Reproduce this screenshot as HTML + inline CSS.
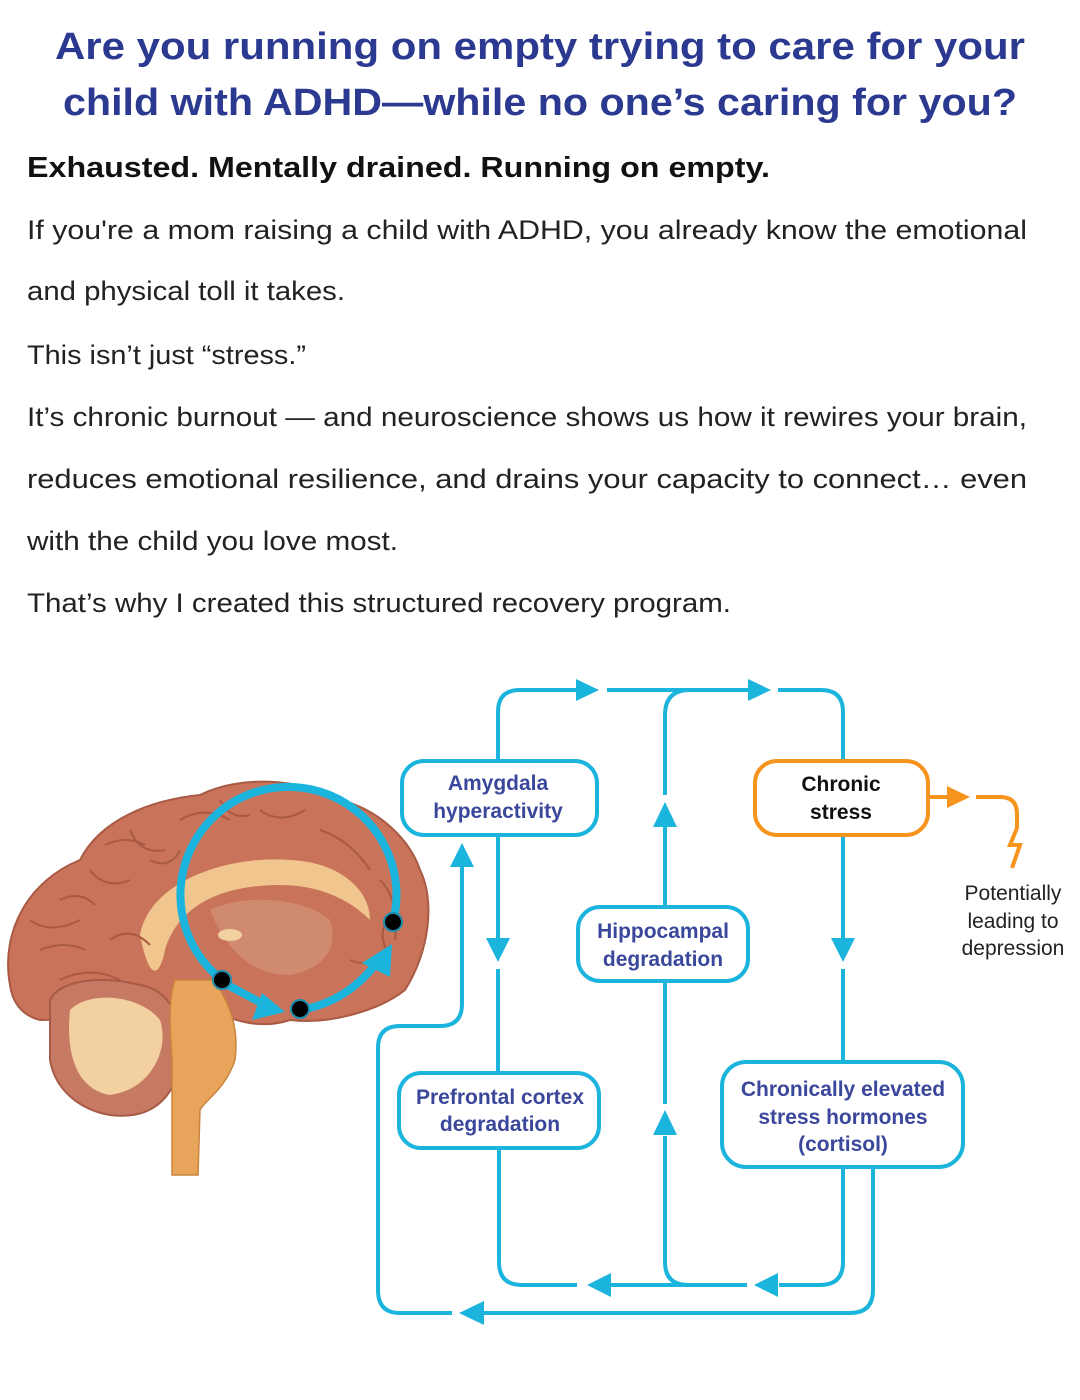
<!DOCTYPE html>
<html><head><meta charset="utf-8"><style>
html,body{margin:0;padding:0;background:#fff;width:1080px;height:1400px;overflow:hidden}
svg{display:block}
.t{font-family:"Liberation Sans",sans-serif;}
</style></head><body>
<svg width="1080" height="1400" viewBox="0 0 1080 1400" xmlns="http://www.w3.org/2000/svg">
<g class="t">
<text x="540" y="59" text-anchor="middle" font-size="38" font-weight="bold" fill="#2b3990" textLength="970" lengthAdjust="spacingAndGlyphs">Are you running on empty trying to care for your</text>
<text x="540" y="115" text-anchor="middle" font-size="38" font-weight="bold" fill="#2b3990" textLength="954" lengthAdjust="spacingAndGlyphs">child with ADHD—while no one’s caring for you?</text>
<text x="27" y="177" font-size="29" font-weight="bold" fill="#111" textLength="743" lengthAdjust="spacingAndGlyphs">Exhausted. Mentally drained. Running on empty.</text>
<text x="27" y="239" font-size="27" fill="#222" textLength="1000" lengthAdjust="spacingAndGlyphs">If you're a mom raising a child with ADHD, you already know the emotional</text>
<text x="27" y="300" font-size="27" fill="#222" textLength="318" lengthAdjust="spacingAndGlyphs">and physical toll it takes.</text>
<text x="27" y="364" font-size="27" fill="#222" textLength="279" lengthAdjust="spacingAndGlyphs">This isn’t just “stress.”</text>
<text x="27" y="426" font-size="27" fill="#222" textLength="1000" lengthAdjust="spacingAndGlyphs">It’s chronic burnout — and neuroscience shows us how it rewires your brain,</text>
<text x="27" y="488" font-size="27" fill="#222" textLength="1000" lengthAdjust="spacingAndGlyphs">reduces emotional resilience, and drains your capacity to connect… even</text>
<text x="27" y="550" font-size="27" fill="#222" textLength="371" lengthAdjust="spacingAndGlyphs">with the child you love most.</text>
<text x="27" y="612" font-size="27" fill="#222" textLength="704" lengthAdjust="spacingAndGlyphs">That’s why I created this structured recovery program.</text>
</g>

<!-- Brain -->
<g>
<path d="M10,985 C0,930 30,880 80,860 C100,820 150,800 200,795 C240,775 300,778 340,800 C380,810 410,840 420,870 C435,900 430,950 405,990 C380,1010 330,1025 290,1020 C260,1030 230,1020 215,1010 L210,1005 C190,1005 170,1010 160,1000 C120,1010 80,1020 40,1020 C20,1015 12,1000 10,985 Z" fill="#c9735a" stroke="#a85a45" stroke-width="2"/>
<path d="M50,1000 C60,980 100,975 140,985 C170,990 185,1020 180,1060 C175,1100 150,1120 110,1115 C80,1110 55,1090 50,1060 Z" fill="#c77a63" stroke="#a85a45" stroke-width="2"/>
<path d="M70,1010 C90,990 140,995 160,1020 C170,1050 150,1090 110,1095 C80,1090 65,1060 70,1010 Z" fill="#f2d0a0"/>
<path d="M175,980 L215,980 C225,1000 240,1020 235,1060 C225,1090 205,1100 200,1110 L198,1175 L172,1175 L172,1060 C170,1030 168,1000 175,980 Z" fill="#e8a45a" stroke="#c9843e" stroke-width="1.5"/>
<path d="M140,935 C150,880 230,855 290,860 C340,862 370,890 370,920 C350,900 320,885 280,885 C230,885 180,900 165,950 C160,975 150,985 140,935 Z" fill="#f0c58e"/>
<path d="M210,910 C240,895 300,895 330,920 C340,950 320,970 290,975 C260,975 230,960 210,910 Z" fill="#d08a70"/>
<ellipse cx="230" cy="935" rx="12" ry="6" fill="#f2d0a0"/>
<path d="M105,845 q20,-10 40,0 M180,820 q25,-15 50,0 M260,810 q20,15 45,0 M60,900 q20,-10 35,5 M320,830 q30,10 50,40 M380,880 q20,20 15,60 M40,950 q25,-10 45,0 M90,870 q15,20 40,10 M130,830 q10,25 35,20 M30,920 q20,15 50,0 M60,980 q30,-15 60,0 M110,940 q20,-15 40,5 M150,860 q20,10 30,-10 M220,800 q10,20 30,15 M350,960 q25,10 40,-10 M390,915 q-15,20 0,40" stroke="#a85a45" stroke-width="2" fill="none"/>
<!-- cyan arc -->
<path d="M222,980 A108,108 0 1 1 393,922" stroke="#1bb4dd" stroke-width="8" fill="none"/>
<path d="M222,982 L265,1005" stroke="#1bb4dd" stroke-width="8" fill="none"/>
<polygon points="285,1012 252,1020 262,993" fill="#1bb4dd"/>
<path d="M300,1010 C330,1005 355,990 375,965" stroke="#1bb4dd" stroke-width="8" fill="none"/>
<polygon points="392,944 390,977 362,963" fill="#1bb4dd"/>
<circle cx="222" cy="980" r="9" fill="#000" stroke="#1a8fb0" stroke-width="2"/>
<circle cx="300" cy="1009" r="9" fill="#000" stroke="#1a8fb0" stroke-width="2"/>
<circle cx="393" cy="922" r="9" fill="#000" stroke="#1a8fb0" stroke-width="2"/>
</g>

<!-- Flow lines -->
<g stroke="#1bb4dd" stroke-width="4" fill="none">
<path d="M498,760 L498,712 Q498,690 520,690 L578,690"/>
<path d="M607,690 L752,690"/>
<path d="M778,690 L821,690 Q843,690 843,712 L843,760"/>
<path d="M665,795 L665,715 Q665,690 690,690"/>
<path d="M665,907 L665,827"/>
<path d="M665,981 L665,1104"/>
<path d="M665,1136 L665,1262 Q665,1285 688,1285 L747,1285"/>
<path d="M498,835 L498,938"/>
<path d="M498,969 L498,1073"/>
<path d="M843,835 L843,938"/>
<path d="M843,969 L843,1062"/>
<path d="M499,1148 L499,1262 Q499,1285 522,1285 L577,1285"/>
<path d="M611,1285 L747,1285"/>
<path d="M779,1285 L820,1285 Q843,1285 843,1262 L843,1167"/>
<path d="M873,1167 L873,1290 Q873,1313 850,1313 L484,1313"/>
<path d="M452,1313 L400,1313 Q378,1313 378,1290 L378,1048 Q378,1026 400,1026 L440,1026 Q462,1026 462,1004 L462,866"/>
</g>
<g fill="#1bb4dd">
<polygon points="599,690 576,679 576,701"/>
<polygon points="771,690 748,679 748,701"/>
<polygon points="665,802 653,827 677,827"/>
<polygon points="665,1110 653,1135 677,1135"/>
<polygon points="498,962 486,938 510,938"/>
<polygon points="843,962 831,938 855,938"/>
<polygon points="587,1285 611,1273 611,1297"/>
<polygon points="754,1285 778,1273 778,1297"/>
<polygon points="459,1313 484,1301 484,1325"/>
<polygon points="462,843 450,867 474,867"/>
</g>
<!-- orange -->
<g stroke="#f7941d" stroke-width="4" fill="none">
<path d="M928,797 L948,797"/>
<path d="M976,797 L1000,797 Q1017,797 1017,814 L1017,828 L1010,845 L1020,845 L1012,868"/>
</g>
<polygon points="970,797 947,786 947,808" fill="#f7941d"/>

<!-- Boxes -->
<g stroke-width="4" fill="#fff">
<rect x="402" y="761" width="195" height="74" rx="22" stroke="#1bb4dd"/>
<rect x="755" y="761" width="173" height="74" rx="22" stroke="#f7941d"/>
<rect x="578" y="907" width="170" height="74" rx="22" stroke="#1bb4dd"/>
<rect x="399" y="1073" width="200" height="75" rx="22" stroke="#1bb4dd"/>
<rect x="722" y="1062" width="241" height="105" rx="24" stroke="#1bb4dd"/>
</g>
<g class="t" font-size="21" font-weight="bold" fill="#3a479a" text-anchor="middle">
<text x="498" y="790">Amygdala</text>
<text x="498" y="818">hyperactivity</text>
<text x="841" y="791" fill="#111">Chronic</text>
<text x="841" y="819" fill="#111">stress</text>
<text x="663" y="938">Hippocampal</text>
<text x="663" y="966">degradation</text>
<text x="500" y="1104">Prefrontal cortex</text>
<text x="500" y="1131">degradation</text>
<text x="843" y="1096">Chronically elevated</text>
<text x="843" y="1124">stress hormones</text>
<text x="843" y="1151">(cortisol)</text>
</g>
<g class="t" font-size="21" fill="#222" text-anchor="middle">
<text x="1013" y="900">Potentially</text>
<text x="1013" y="928">leading to</text>
<text x="1013" y="955">depression</text>
</g>
</svg>
</body></html>
